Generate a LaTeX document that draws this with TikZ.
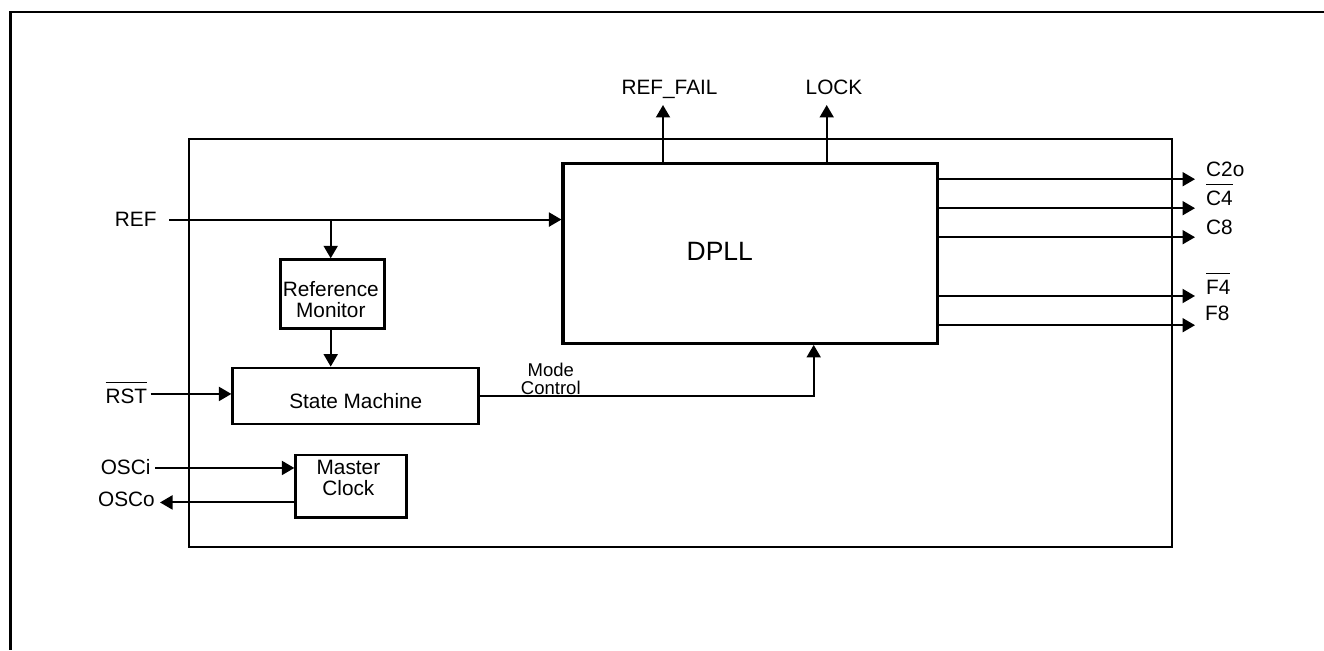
\documentclass[tikz,border=0pt]{standalone}
\usepackage{fontspec}
\setmainfont{Liberation Sans}
\usetikzlibrary{arrows.meta}
\newcommand\ovl[1]{\setbox0\hbox{#1}\rlap{\raisebox{19.9pt}[0pt][0pt]{\rule{\wd0}{1.5pt}}}\box0}
\begin{document}
\begin{tikzpicture}[x=1pt,y=-1pt,
  txt/.style={inner sep=0pt, font=\fontsize{20.8}{24}\selectfont},
  box/.style={draw, line width=2.8pt, inner sep=0pt},
  arr/.style={line width=2pt, -{Triangle[length=12.5pt,width=14pt]}},
  frame/.style={line width=2.7pt},
  chipbox/.style={draw, line width=2pt, inner sep=0pt}]
\useasboundingbox (0,0) rectangle (1324,650);
% outer frame
\draw[frame] (1324,12) -- (10.3,12) -- (10.3,650);
% chip outline
\node[chipbox, minimum width=982.4pt, minimum height=408.3pt] (chip) at (680.5,342.85) {};
% blocks
\node[box, line width=3.2pt, minimum width=374.3pt, minimum height=179.6pt] (dpll) at (750.2,253.5) {};
\node[txt, font=\fontsize{26.5}{30}\selectfont, anchor=base] (dplltxt) at (719.8,260.7) {DPLL};
\node[box, minimum width=103.5pt, minimum height=69.1pt] (rm) at (332.45,294.25) {};
\node[txt, align=center, font=\fontsize{20.8}{20.7}\selectfont, anchor=north] (rmtxt) at (330.8,281.7) {Reference\\Monitor};
\node[box, minimum width=246pt, minimum height=56pt] (sm) at (355.8,396) {};
\node[txt, anchor=base] (smtxt) at (355.8,408.3) {State Machine};
\node[box, minimum width=110.5pt, minimum height=62.2pt] (mc) at (351,486.1) {};
\node[txt, align=center, font=\fontsize{20.8}{21}\selectfont, anchor=north] (mctxt) at (348.4,460) {Master\\Clock};
% inputs
\node[txt, anchor=base east] (ref) at (156.7,226.7) {REF};
\node[txt, anchor=base east] (rst) at (147.3,403.3) {\ovl{RST}};
\node[txt, anchor=base east] (osci) at (150.7,474) {OSCi};
\node[txt, anchor=base east] (osco) at (155,506.7) {OSCo};
\coordinate (brx) at (330.7,0);
\draw[arr] ([xshift=12.6pt]ref.east) -- (dpll.west |- ref.east);
\draw[arr] (brx |- ref.east) -- (brx |- rm.north);
\draw[arr] (brx |- rm.south) -- (brx |- sm.north);
\draw[arr] ([xshift=3.4pt,yshift=2.2pt]rst.east) -- ([yshift=2.2pt]rst.east -| sm.west);
\draw[arr] ([xshift=4.3pt,yshift=-1.4pt]osci.east) -- ([yshift=-1.4pt]osci.east -| mc.west);
\draw[arr] ([yshift=-2.9pt]osco.east -| mc.west) -- ([xshift=5pt,yshift=-2.9pt]osco.east);
% mode control
\node[txt, align=center, font=\fontsize{18.5}{17.3}\selectfont, anchor=north] (mode) at (550.8,363.3) {Mode\\Control};
\coordinate (mct) at (813.7,0);
\draw[arr] (sm.east) -| (mct |- dpll.south);
% top outputs
\coordinate (rft) at (663,105);
\coordinate (lkt) at (826.7,105);
\draw[arr] (rft |- dpll.north) -- (rft);
\draw[arr] (lkt |- dpll.north) -- (lkt);
\node[txt, anchor=base] (reffail) at (669.5,95) {REF\_FAIL};
\node[txt, anchor=base] (lock) at (834,95) {LOCK};
% right outputs
\coordinate (o1) at (1195,179.2);
\coordinate (o2) at (1195,208.2);
\coordinate (o3) at (1195,237.2);
\coordinate (o4) at (1195,296);
\coordinate (o5) at (1195,325.2);
\foreach \o in {o1,o2,o3,o4,o5} \draw[arr] (dpll.east |- \o) -- (\o);
\node[txt, anchor=base west] (c2o) at (1206,176) {C2o};
\node[txt, anchor=base west] (c4) at (1206,205) {\ovl{C4}};
\node[txt, anchor=base west] (c8) at (1206,234.3) {C8};
\node[txt, anchor=base west] (f4) at (1206,294) {\ovl{F4}};
\node[txt, anchor=base west] (f8) at (1205,320) {F8};
\end{tikzpicture}
\end{document}
